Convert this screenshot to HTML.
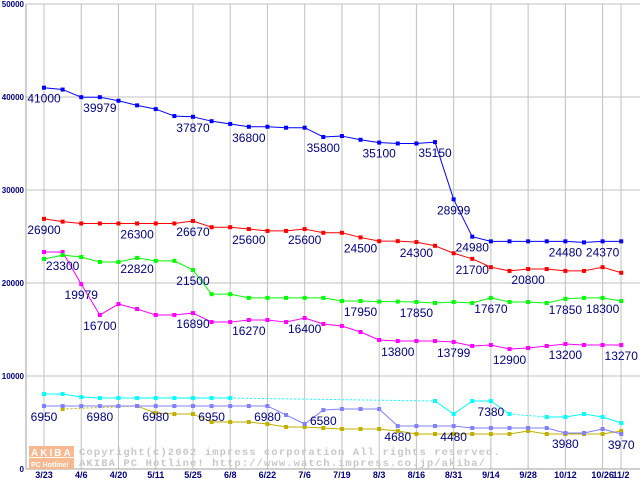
<!DOCTYPE html>
<html><head><meta charset="utf-8"><style>
body{margin:0;background:#fff}
svg{display:block}
text{font-family:"Liberation Sans",sans-serif}
</style></head><body>
<svg id="c" width="640" height="480" xmlns="http://www.w3.org/2000/svg"></svg>
<script>
const xLabels=["3/23","4/6","4/20","5/11","5/25","6/8","6/22","7/6","7/19","8/3","8/16","8/31","9/14","9/28","10/12","10/26","11/2"];
const yTicks=[0,10000,20000,30000,40000,50000];
const blue=[41000,40800,39979,39979,39600,39100,38700,37950,37870,37400,37100,36800,36800,36700,36700,35700,35800,35400,35100,35000,35000,35150,28999,24980,24480,24480,24480,24480,24480,24370,24480,24480];
const red=[26900,26600,26400,26400,26400,26400,26400,26400,26670,26000,26000,25800,25600,25600,25800,25400,25400,24900,24500,24500,24400,24000,23200,22600,21700,21300,21500,21500,21300,21300,21700,21100];
const green=[22580,23000,22800,22260,22260,22700,22380,22380,21400,18800,18800,18400,18400,18400,18400,18400,18060,18060,18000,18000,17960,17850,17960,17850,18400,17960,17960,17850,18300,18400,18400,18060];
const magenta=[23330,23330,19880,16560,17740,17200,16560,16560,16770,15800,15800,16020,16020,15800,16240,15590,15380,14730,13870,13760,13760,13760,13660,13230,13330,12900,13010,13230,13440,13330,13330,13330];
const cyan=[8060,8060,7740,7630,7630,7630,7630,7630,7630,7630,7630,null,null,null,null,null,null,null,null,null,null,7310,5910,7310,7310,5910,null,5590,5590,5910,5590,4950];
const peri=[6770,6770,6770,6770,6770,6770,6770,6770,6770,6770,6770,6770,6770,5810,4840,6340,6450,6450,6450,4620,4620,4620,4620,4410,4410,4410,4410,4410,3870,3870,4300,3760];
const olive=[null,6450,null,null,null,6770,6020,5910,5910,5050,5050,5050,4840,4520,4520,4410,4300,4300,4300,4090,3760,3760,3760,3760,3760,3760,4090,3760,3760,3760,3760,4090];
const blueLblIdx=[0,3,8,11,15,18,21,22,23,28,30],blueLbl=["41000","39979","37870","36800","35800","35100","35150","28999","24980","24480","24370"];
const redLblIdx=[0,5,8,11,14,17,20,23,26],redLbl=["26900","26300","26670","25600","25600","24500","24300","21700","20800"];
const greenLblIdx=[1,5,8,17,20,24,28,30],greenLbl=["23300","22820","21500","17950","17850","17670","17850","18300"];
const magLblIdx=[2,3,8,11,14,19,22,25,28,31],magLbl=["19979","16700","16890","16270","16400","13800","13799","12900","13200","13270"];
const periLblIdx=[0,3,6,9,12,15,19,22,28,31],periLbl=["6950","6980","6980","6950","6980","6580","4680","4480","3980","3970"];
const cyanLblIdx=[24],cyanLbl=["7380"];

const NS="http://www.w3.org/2000/svg",svg=document.getElementById('c');
const X=i=>44+i*18.62, Y=v=>469-v*0.0093;
function el(t,a,p){const e=document.createElementNS(NS,t);for(const k in a)e.setAttribute(k,a[k]);(p||svg).appendChild(e);return e;}
yTicks.forEach(v=>{
 const g=el('line',{x1:26,x2:640,y1:Y(v),y2:Y(v),stroke:'#c0c0c0'});
 
 
 const t=el('text',{x:24,y:Y(v)+3,'text-anchor':'end','font-size':8,'font-weight':'bold',fill:'#000080'});t.textContent=v;
 
 
});
xLabels.forEach((s,k)=>{
 const x=k<16?X(2*k):621;
 const g=el('line',{x1:x,x2:x,y1:4,y2:469,stroke:'#c0c0c0'});
 
 
 const t=el('text',{x:x,y:478,'text-anchor':'middle','font-size':9,'font-weight':'bold',fill:'#000080'});t.textContent=s;
 
 
});
el('line',{x1:26,x2:26,y1:4,y2:469,stroke:'#a0a0a0'});
el('line',{x1:26,x2:640,y1:469,y2:469,stroke:'#a0a0a0'});
const wm=el('g',{});


el('rect',{x:29,y:446,width:45,height:11,fill:'#f8b890'},wm);
el('rect',{x:29,y:458,width:45,height:11,fill:'#f8b890'},wm);
let t=el('text',{x:31,y:456,'font-size':10,'font-weight':'bold',fill:'#fff','letter-spacing':2},wm);t.textContent='AKIBA';
t=el('text',{x:31,y:467,'font-size':7,'font-weight':'bold',fill:'#fff'},wm);t.textContent='PC Hotline!';
t=el('text',{x:79,y:455,'font-size':10.5,'font-weight':'bold',fill:'#c8c8c8',style:'font-family:"Liberation Mono",monospace','letter-spacing':1.1},wm);t.textContent='Copyright(c)2002 impress corporation All rights reserved.';
t=el('text',{x:79,y:466,'font-size':10.5,'font-weight':'bold',fill:'#c8c8c8',style:'font-family:"Liberation Mono",monospace','letter-spacing':1.1},wm);t.textContent='AKIBA PC Hotline!  http://www.watch.impress.co.jp/akiba/';
function series(name,data,color,li,lt){
 const g=el('g',{});
 
 
 let prev=-1;
 data.forEach((v,i)=>{
  if(v==null)return;
  if(prev>=0){
   const ln=el('line',{x1:X(prev),y1:Y(data[prev]),x2:X(i),y2:Y(v),stroke:color,'stroke-width':1},g);
   if(i-prev>1)ln.setAttribute('stroke-dasharray','2,2');
  }
  prev=i;
 });
 data.forEach((v,i)=>{
  if(v==null)return;
  const r=el('rect',{x:X(i)-2,y:Y(v)-2,width:4,height:4,fill:color},g);
  
  
 });
 li.forEach((i,k)=>{
  const v=data[i]!=null?data[i]:data[i-1];
  const tx=el('text',{x:X(i),y:Y(v)+15,'text-anchor':'middle','font-size':12,fill:'#000080'},svg);
  tx.textContent=lt[k];
  
  
 });
}
series('olive',olive,'#c0b000',[],[]);
series('periwinkle',peri,'#8080ff',periLblIdx,periLbl);
series('cyan',cyan,'#00ffff',cyanLblIdx,cyanLbl);
series('magenta',magenta,'#ff00ff',magLblIdx,magLbl);
series('green',green,'#00ff00',greenLblIdx,greenLbl);
series('red',red,'#ff0000',redLblIdx,redLbl);
series('blue',blue,'#0000ff',blueLblIdx,blueLbl);
</script>
</body></html>
